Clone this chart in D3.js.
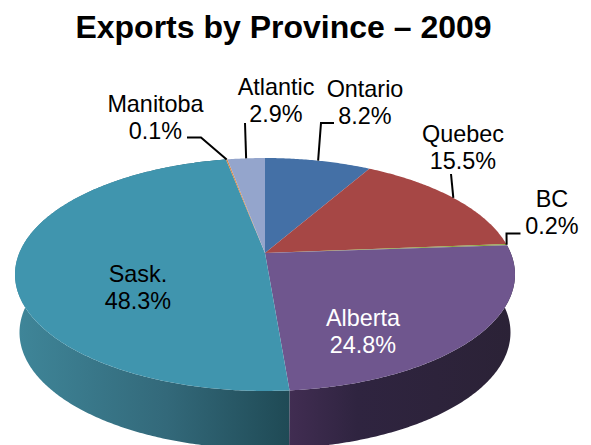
<!DOCTYPE html>
<html>
<head>
<meta charset="utf-8">
<script src="https://cdnjs.cloudflare.com/ajax/libs/d3/7.8.5/d3.min.js"></script>
<style>
html,body{margin:0;padding:0;background:#fff;overflow:hidden}
svg{display:block}
text{font-family:"Liberation Sans",Arial,sans-serif}
</style>
</head>
<body>
<script>
// Data, clockwise from 12 o'clock
const provinces = ["Ontario","Quebec","BC","Alberta","Sask.","Manitoba","Atlantic"];
const shares = [8.2,15.5,0.2,24.8,48.3,0.1,2.9];
const title = "Exports by Province – 2009";

// Styling / layout (separate from the data)
const topColors = ["#4470a6","#a64745","#8aa63e","#6f568e","#4095ae","#db843d","#94a5cc"];
const sideStops = {
  "Alberta":[[0,"#412d52"],[0.3,"#2f2440"],[1,"#2b2236"]],
  "Sask.":[[0,"#3f8699"],[0.55,"#33697a"],[1,"#1f4a55"]]
};
const labelLayout = {
  "Ontario":{x:365,y:97,leader:[[334,123],[321,123]]},
  "Quebec":{x:463,y:142,leader:[[451,174]]},
  "BC":{x:552,y:207,leader:[[520.5,233.5],[506.5,233.5]]},
  "Alberta":{x:363,y:326,fill:"#fff"},
  "Sask.":{x:138,y:282},
  "Manitoba":{x:155.5,y:111.5,leader:[[187,137.5],[201,137.5]]},
  "Atlantic":{x:276,y:95,leader:[[245,123]]}
};
const W=591,H=445;
const cx=265,cy=253,a=245.7,b=112.5,k=0.1845,depth=58,baseScale=0.982;

const svg=d3.select("body").append("svg").attr("width",W).attr("height",H).attr("viewBox",`0 0 ${W} ${H}`);

// Perspective projection of the unit disc onto the tilted plane
function project(theta,r=1){
  const X=Math.sin(theta)*r, Y=-Math.cos(theta)*r, d=1-k*Y;
  return [cx+a*X/d, cy+b*Y/d];
}
function projectBase(theta){
  const p=project(theta);
  return [cx+(p[0]-cx)*baseScale, p[1]+depth];
}
function sampleAngles(s,e){
  const n=Math.max(2,Math.ceil((e-s)/0.01));
  return d3.range(n+1).map(i=>s+(e-s)*i/n);
}
const line=d3.line();
const pie=d3.pie().sort(null).value((d,i)=>shares[i]);
const arcs=pie(provinces);

const defs=svg.append("defs");
Object.keys(sideStops).forEach((name,i)=>{
  const arc=arcs[provinces.indexOf(name)];
  const xs=sampleAngles(arc.startAngle,arc.endAngle).map(t=>project(t)[0]);
  const g=defs.append("linearGradient").attr("id","side"+i)
    .attr("gradientUnits","userSpaceOnUse")
    .attr("x1",d3.min(xs)).attr("x2",d3.max(xs)).attr("y1",0).attr("y2",0);
  sideStops[name].forEach(s=>g.append("stop").attr("offset",s[0]).attr("stop-color",s[1]));
});

// Side wall
Object.keys(sideStops).forEach((name,i)=>{
  const arc=arcs[provinces.indexOf(name)];
  const t=sampleAngles(arc.startAngle,arc.endAngle);
  const pts=t.map(v=>project(v)).concat(t.slice().reverse().map(projectBase));
  svg.append("path").attr("d",line(pts)+"Z").attr("fill",`url(#side${i})`);
});

// Top face
svg.append("g").selectAll("path").data(arcs).join("path")
  .attr("d",d=>line([[cx,cy]].concat(sampleAngles(d.startAngle,d.endAngle).map(t=>project(t))))+"Z")
  .attr("fill",(d,i)=>topColors[i]);

// Leaders, ending at each slice's mid-angle on the rim
arcs.forEach(d=>{
  const l=labelLayout[d.data];
  if(!l.leader) return;
  const end=project((d.startAngle+d.endAngle)/2);
  svg.append("path").attr("d",line(l.leader.concat([end])))
    .attr("fill","none").attr("stroke","#000").attr("stroke-width",2);
});

// Labels
arcs.forEach((d,i)=>{
  const l=labelLayout[d.data];
  const t=svg.append("text").attr("text-anchor","middle").attr("font-size",23.4).attr("fill",l.fill||"#000");
  t.append("tspan").attr("x",l.x).attr("y",l.y).text(d.data);
  t.append("tspan").attr("x",l.x).attr("y",l.y+27).text(shares[i].toFixed(1)+"%");
});

svg.append("text").attr("x",283.5).attr("y",38).attr("text-anchor","middle")
  .attr("font-size",32).attr("font-weight","bold").attr("fill","#000").text(title);
</script>
</body>
</html>
